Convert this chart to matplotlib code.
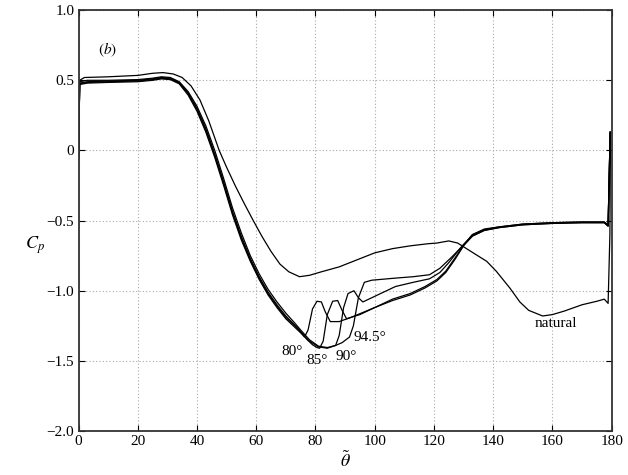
"""Surface pressure coefficient vs angle: natural case and four actuation angles."""

import matplotlib
matplotlib.use("Agg")
import matplotlib.pyplot as plt
from matplotlib.ticker import FixedLocator, FixedFormatter

plt.rcParams["font.family"] = ["Liberation Serif", "DejaVu Serif"]
plt.rcParams["mathtext.fontset"] = "stix"

# natural (uncontrolled) flow
natural_theta = [0, 0.4, 2, 10, 20, 25, 28.5, 32, 35, 38, 41, 44, 47.5, 50, 53, 56,
                 59, 62, 65, 68, 71, 74.6, 78, 82, 88, 94, 100, 106, 112, 118, 121,
                 125, 128, 131, 134, 137.8, 141, 145.6, 149, 152, 156.7, 160, 164,
                 170, 175, 177.5, 178.8, 179.4, 179.6]
natural_cp = [-0.06, 0.50, 0.52, 0.525, 0.535, 0.55, 0.555, 0.545, 0.52, 0.46, 0.36,
              0.21, 0.0, -0.12, -0.255, -0.38, -0.50, -0.615, -0.72, -0.81, -0.865,
              -0.90, -0.89, -0.865, -0.83, -0.78, -0.73, -0.70, -0.68, -0.665, -0.66,
              -0.645, -0.66, -0.70, -0.74, -0.79, -0.86, -0.98, -1.08, -1.14, -1.18,
              -1.17, -1.145, -1.10, -1.075, -1.06, -1.09, -0.6, 0.13]

# controlled cases share the same angle grid up to 73 deg
front_theta = [0, 0.4, 3, 10, 20, 25, 28, 31, 34, 37, 40, 43, 46, 49, 52, 55, 58,
               61, 64, 67, 70, 73]

cp80_front = [-0.06, 0.47, 0.48, 0.485, 0.49, 0.50, 0.51, 0.505, 0.475, 0.395,
              0.28, 0.13, -0.05, -0.25, -0.46, -0.64, -0.79, -0.92, -1.03, -1.12,
              -1.20, -1.26]
cp80_theta = [75, 76.3, 77.5, 79, 80.5, 82, 83.3, 85, 88, 92, 100, 106, 112, 117,
              121, 124, 127, 130, 133, 137, 142, 150, 160, 170, 177.5, 178.8, 179.5]
cp80_cp = [-1.30, -1.33, -1.28, -1.13, -1.075, -1.08, -1.15, -1.22, -1.22, -1.19,
           -1.12, -1.07, -1.03, -0.98, -0.93, -0.87, -0.78, -0.68, -0.61, -0.57,
           -0.55, -0.53, -0.52, -0.515, -0.515, -0.54, 0.13]

cp85_front = [-0.06, 0.48, 0.49, 0.495, 0.50, 0.51, 0.52, 0.515, 0.485, 0.41,
              0.30, 0.155, -0.025, -0.225, -0.435, -0.615, -0.77, -0.90, -1.01,
              -1.10, -1.18, -1.245]
cp85_theta = [75, 77, 79, 80.5, 81.4, 82.6, 84, 85.8, 87.5, 89, 90.5, 95, 100, 106,
              112, 117, 121, 124, 127, 130, 133, 137, 142, 150, 160, 170, 177.5,
              178.8, 179.5]
cp85_cp = [-1.29, -1.345, -1.385, -1.405, -1.41, -1.36, -1.17, -1.075, -1.07, -1.14,
           -1.20, -1.17, -1.12, -1.06, -1.02, -0.97, -0.92, -0.86, -0.77, -0.675,
           -0.60, -0.565, -0.545, -0.525, -0.515, -0.51, -0.51, -0.53, 0.13]

cp90_front = [-0.06, 0.49, 0.50, 0.50, 0.505, 0.515, 0.525, 0.52, 0.49, 0.42,
              0.315, 0.175, 0.0, -0.20, -0.41, -0.59, -0.75, -0.88, -0.99, -1.08,
              -1.16, -1.23]
cp90_theta = [75, 78, 81, 84, 86.8, 88, 89.5, 91, 93, 94.5, 96, 100, 107, 113,
              118.5, 122, 125, 128, 130, 133, 137, 142, 150, 160, 170, 177.5,
              178.8, 179.5]
cp90_cp = [-1.28, -1.35, -1.395, -1.405, -1.39, -1.32, -1.12, -1.02, -1.0, -1.05,
           -1.08, -1.04, -0.97, -0.94, -0.915, -0.87, -0.80, -0.72, -0.67, -0.61,
           -0.57, -0.55, -0.53, -0.52, -0.515, -0.515, -0.54, 0.13]

cp945_front = [-0.06, 0.475, 0.485, 0.49, 0.495, 0.505, 0.515, 0.51, 0.48, 0.405,
               0.29, 0.145, -0.035, -0.235, -0.445, -0.625, -0.78, -0.91, -1.02,
               -1.11, -1.19, -1.25]
cp945_theta = [75, 78, 81, 84, 86.8, 89, 91.5, 92.8, 94.5, 96.5, 99, 107, 113,
               118.5, 122, 126, 129.7, 133, 137, 142, 150, 160, 170, 177.5, 178.8,
               179.5]
cp945_cp = [-1.295, -1.36, -1.40, -1.41, -1.39, -1.37, -1.33, -1.25, -1.05, -0.94,
            -0.925, -0.91, -0.90, -0.886, -0.84, -0.76, -0.68, -0.60, -0.56, -0.545,
            -0.525, -0.515, -0.51, -0.51, -0.535, 0.13]

x_ticks = [0, 20, 40, 60, 80, 100, 120, 140, 160, 180]
y_ticks = [-2.0, -1.5, -1.0, -0.5, 0, 0.5, 1.0]
y_tick_labels = ["\u22122.0", "\u22121.5", "\u22121.0", "\u22120.5", "0", "0.5", "1.0"]

fig = plt.figure(figsize=(6.28, 4.75), dpi=100)
ax = fig.add_axes([0.125, 0.0926, 0.849, 0.886])

lw = 0.9
ax.plot(natural_theta, natural_cp, color="black", lw=lw)
ax.plot(front_theta + cp80_theta, cp80_front + cp80_cp, color="black", lw=lw)
ax.plot(front_theta + cp85_theta, cp85_front + cp85_cp, color="black", lw=lw)
ax.plot(front_theta + cp90_theta, cp90_front + cp90_cp, color="black", lw=lw)
ax.plot(front_theta + cp945_theta, cp945_front + cp945_cp, color="black", lw=lw)

ax.set_xlim(0, 180)
ax.set_ylim(-2.0, 1.0)
ax.xaxis.set_major_locator(FixedLocator(x_ticks))
ax.yaxis.set_major_locator(FixedLocator(y_ticks))
ax.yaxis.set_major_formatter(FixedFormatter(y_tick_labels))
ax.tick_params(direction="in", top=True, right=True, length=4, width=0.8,
               labelsize=11, pad=3)
ax.grid(True, linestyle=(0, (1, 2)), color="#aaaaaa", linewidth=0.8)
for s in ax.spines.values():
    s.set_linewidth(1.3)
    s.set_color("#333333")

ax.set_xlabel(r"$\tilde{\theta}$", fontsize=13, labelpad=2)
ax.set_ylabel(r"$C_p$", fontsize=13, rotation=0, va="center", ha="center")
ax.yaxis.set_label_coords(-0.082, 0.442)

ax.text(9.8, 0.72, r"$(b)$", fontsize=11, ha="center", va="center")
ax.text(72, -1.43, "80°", fontsize=11, ha="center", va="center")
ax.text(80.5, -1.50, "85°", fontsize=11, ha="center", va="center")
ax.text(90.5, -1.47, "90°", fontsize=11, ha="center", va="center")
ax.text(98.5, -1.33, "94.5°", fontsize=11, ha="center", va="center")
ax.text(161, -1.235, "natural", fontsize=11, ha="center", va="center")

fig.savefig("out.png", dpi=100)
